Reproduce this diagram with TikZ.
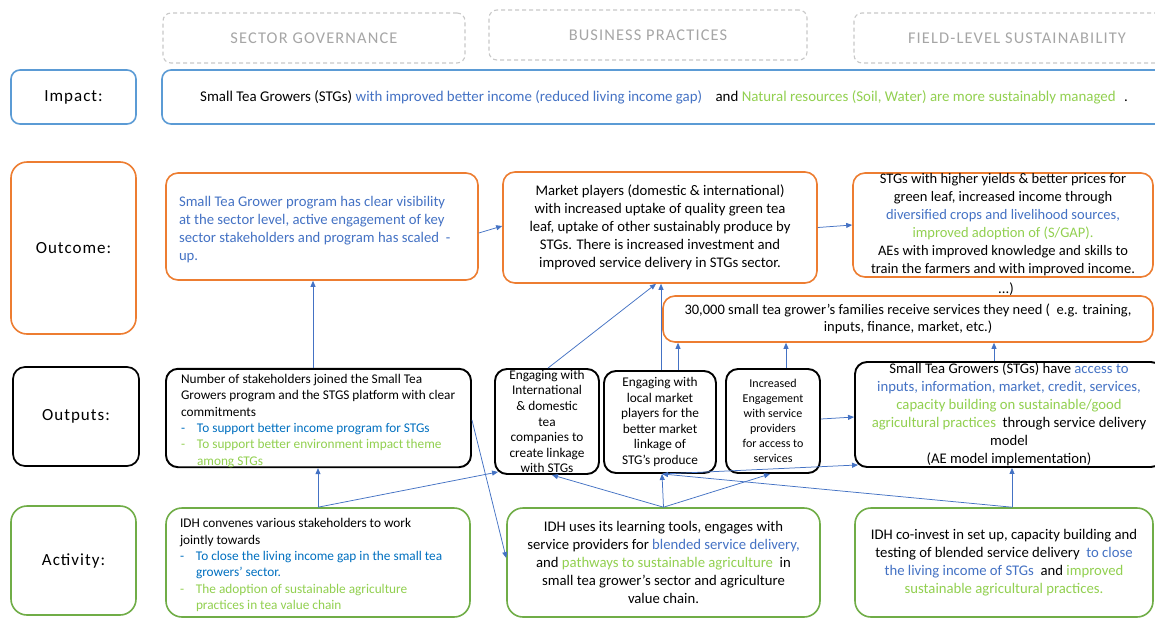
\documentclass[tikz,border=0pt]{standalone}
\usepackage{fontspec}
\setmainfont{Carlito}
\newfontfamily\labfont[LetterSpace=6]{Carlito}
\newfontfamily\hdrfont[LetterSpace=7]{Carlito}
\usetikzlibrary{arrows.meta}
\definecolor{tblue}{HTML}{4472C4}
\definecolor{bblue}{HTML}{0070C0}
\definecolor{tgreen}{HTML}{92D050}
\definecolor{corange}{HTML}{ED7D31}
\definecolor{cgreen}{HTML}{70AD47}
\definecolor{iblue}{HTML}{5B9BD5}
\definecolor{hgray}{HTML}{C8C8C8}
\definecolor{htext}{HTML}{A6A6A6}
\definecolor{cline}{HTML}{4472C4}
\newcommand{\lblock}[2]{\raisebox{-3pt}[\height][\depth]{\makebox[#1][l]{\begin{tabular}{@{}l@{}}#2\end{tabular}}}}
\newcommand{\bul}{\makebox[16pt][l]{-}}
\newcommand{\ind}{\hspace*{16pt}}
\begin{document}
\begin{tikzpicture}[x=1pt,y=-1pt,
  conn/.style={draw=cline, line width=0.75pt, -{Triangle[length=6pt,width=5pt]}},
  bx/.style={rounded corners=12pt, inner sep=0pt, line width=1.6pt},
  bk/.style={bx, draw=black, line width=1.9pt},
  hdr/.style={draw=hgray, line width=1.1pt, dash pattern=on 4pt off 3pt, rounded corners=8pt, inner sep=0pt, text=htext, font=\hdrfont\fontsize{16.4}{19}\selectfont},
  lab/.style={font=\labfont\fontsize{17}{20}\selectfont},
  fbody/.style={font=\fontsize{14.7}{18}\selectfont},
  fsmall/.style={font=\fontsize{13.3}{16.4}\selectfont},
]
\useasboundingbox (0,0) rectangle (1155,640);
\fill[white] (0,0) rectangle (1155,640);

% headers
\node[hdr, minimum width=302pt, minimum height=50pt] (H1) at (314,38) {SECTOR GOVERNANCE};
\node[hdr, minimum width=318pt, minimum height=50pt] (H2) at (648,35) {BUSINESS PRACTICES};
\node[hdr, minimum width=326pt, minimum height=50pt] (H3) at (1017,38) {FIELD-LEVEL SUSTAINABILITY};

% impact
\node[bx, draw=iblue, rounded corners=9pt, minimum width=125pt, minimum height=54pt, lab] (LI) at (73.5,97) {Impact:};
\node[bx, draw=iblue, rounded corners=9pt, minimum width=1004pt, minimum height=54pt, font=\fontsize{14.9}{18}\selectfont] (IM) at (664,97)
 {Small Tea Growers (STGs) \textcolor{tblue}{with improved better income (reduced living income gap)}\hspace{10pt} and \textcolor{tgreen}{Natural resources (Soil, Water) are more sustainably managed}\hspace{5pt} .};

% outcome
\node[bx, draw=corange, rounded corners=16pt, minimum width=125pt, minimum height=172pt, lab] (LO) at (73.5,248) {Outcome:};
\node[bx, draw=corange, minimum width=312pt, minimum height=107pt, fbody, text=tblue] (O1) at (322,226.5)
 {\lblock{286pt}{Small Tea Grower program has clear visibility\\ at the sector level, active engagement of key\\ sector stakeholders and program has scaled\ \ -\\ up.}};
\node[bx, draw=corange, minimum width=314pt, minimum height=111pt, fbody, align=center] (O2) at (660,227.5)
 {Market players (domestic \& international)\\with increased uptake of quality green tea\\leaf, uptake of other sustainably produce by\\STGs. There is increased investment and\\improved service delivery in STGs sector.};
\node[bx, draw=corange, minimum width=300pt, minimum height=104pt, font=\fontsize{14.5}{18}\selectfont, align=center] (O3) at (1003,225)
 {STGs with higher yields \& better prices for\\green leaf, increased income through\\\textcolor{tblue}{diversified crops and livelihood sources,}\\\textcolor{tgreen}{improved adoption of (S/GAP).}\\AEs with improved knowledge and skills to\\train the farmers and with improved income.};
\node[fbody, inner sep=0pt] (dots) at (1006,289) {...)};
\node[bx, draw=corange, minimum width=490pt, minimum height=46pt, font=\fontsize{14.5}{17}\selectfont, align=center] (F) at (908,319)
 {30,000 small tea grower’s families receive services they need (\ \ e.g. training,\\inputs, finance, market, etc.)};

% outputs
\node[bk, minimum width=126pt, minimum height=99pt, lab, line width=1.7pt] (LP) at (76,416.5) {Outputs:};
\node[bk, minimum width=305pt, minimum height=98pt, fsmall] (P1) at (318.5,418)
 {\lblock{275pt}{Number of stakeholders joined the Small Tea\\ Growers program and the STGS platform with clear\\ commitments\\ \textcolor{bblue}{\bul To support better income program for STGs}\\ \textcolor{tgreen}{\bul To support better environment impact theme}\\ \textcolor{tgreen}{\ind among STGs}}};
\node[bk, minimum width=104pt, minimum height=105pt, font=\fontsize{13.3}{15.6}\selectfont, align=center] (P2) at (547,421.5)
 {Engaging with\\International\\\& domestic\\tea\\companies to\\create linkage\\with STGs};
\node[bk, minimum width=112pt, minimum height=102pt, font=\fontsize{13.3}{15.6}\selectfont, align=center] (P3) at (660,422)
 {Engaging with\\local market\\players for the\\better market\\linkage of\\STG’s produce};
\node[bk, minimum width=94pt, minimum height=104pt, font=\fontsize{12}{15}\selectfont, align=center] (P4) at (773,421)
 {Increased\\Engagement\\with service\\providers\\for access to\\services};
\node[bk, minimum width=308pt, minimum height=105pt, fbody, align=center] (P5) at (1009,414.5)
 {Small Tea Growers (STGs) have \textcolor{tblue}{access to}\\\textcolor{tblue}{inputs, information, market, credit, services,}\\\textcolor{tgreen}{capacity building on sustainable/good}\\\textcolor{tgreen}{agricultural practices}\ \ through service delivery\\model\\(AE model implementation)};

% activity
\node[bx, draw=cgreen, rounded corners=16pt, minimum width=125pt, minimum height=109pt, lab] (LA) at (73.5,560.5) {Activity:};
\node[bx, draw=cgreen, rounded corners=16pt, minimum width=304pt, minimum height=109pt, fsmall] (A1) at (318,562.5)
 {\lblock{276pt}{IDH convenes various stakeholders to work\\ jointly towards\\ \textcolor{bblue}{\bul To close the living income gap in the small tea}\\ \textcolor{bblue}{\ind growers’ sector.}\\ \textcolor{tgreen}{\bul The adoption of sustainable agriculture}\\ \textcolor{tgreen}{\ind practices in tea value chain}}};
\node[bx, draw=cgreen, rounded corners=16pt, minimum width=313pt, minimum height=109pt, fbody, align=center] (A2) at (663.5,562.5)
 {IDH uses its learning tools, engages with\\service providers for\ \textcolor{tblue}{blended service delivery,}\\and \textcolor{tgreen}{pathways to sustainable agriculture}\ \ in\\small tea grower’s sector and agriculture\\value chain.};
\node[bx, draw=cgreen, rounded corners=16pt, minimum width=298pt, minimum height=109pt, fbody, align=center] (A3) at (1004,562.5)
 {IDH co-invest in set up, capacity building and\\testing of blended service delivery\ \ \textcolor{tblue}{to close}\\\textcolor{tblue}{the living income of STGs}\ \ and \textcolor{tgreen}{improved}\\\textcolor{tgreen}{sustainable agricultural practices.}};

% connectors
\draw[conn] ([xshift=-5.5pt]P1.north) -- ([xshift=-9pt]O1.south);
\draw[conn] ([yshift=-6.5pt]O1.east) -- ([yshift=1.5pt]O2.west);
\draw[conn] (O2.east) -- (O3.west);
\draw[conn] ([xshift=1pt]P2.north) -- ([xshift=-4pt]O2.south);
\draw[conn] ([xshift=1pt]P3.north) -- ([xshift=1pt]O2.south);
\draw[conn] ([xshift=18pt]P3.north) -- ([xshift=-230pt]F.south);
\draw[conn] ([xshift=13pt]P4.north) -- ([xshift=-122pt]F.south);
\draw[conn] ([xshift=-15pt]P5.north) -- ([xshift=86pt]F.south);
\draw[conn] ([yshift=2pt]P4.east) -- ([yshift=-2.5pt]P5.west);
\draw[conn] (A1.north) -- (A1.north |- P1.south);
\draw[conn] (A1.north) -- ([xshift=4pt,yshift=3pt]P2.south west);
\draw[conn] ([yshift=-2pt]P1.east) -- ([yshift=4.5pt]A2.west);
\draw[conn] (A2.north) -- ([xshift=5pt]P2.south);
\draw[conn] (A2.north) -- ([xshift=2pt]P3.south);
\draw[conn] (A2.north) -- ([xshift=-3pt]P4.south);
\draw[conn] ([xshift=3pt]P3.south) -- ([xshift=4pt,yshift=3pt]P5.south west);
\draw[conn] ([xshift=8pt]A3.north) -- ([xshift=2pt]P3.south);
\draw[conn] ([xshift=8pt]A3.north) -- ([xshift=3pt]P5.south);
\end{tikzpicture}
\end{document}
